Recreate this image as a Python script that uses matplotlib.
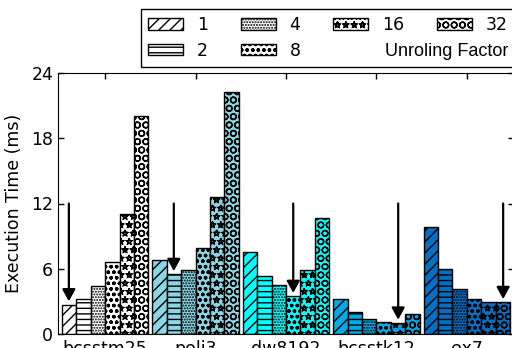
import matplotlib
matplotlib.use("Agg")
import matplotlib.pyplot as plt
import matplotlib.hatch as mhatch
from matplotlib.patches import Patch
import numpy as np

# hollow stars, as in the reference
mhatch.Stars.filled = False

matrices = ["bcsstm25", "poli3", "dw8192", "bcsstk12", "ex7"]
factors = ["1", "2", "4", "8", "16", "32"]
times = {
    "bcsstm25": [2.72, 3.27, 4.40, 6.63, 11.07, 20.0],
    "poli3":    [6.79, 5.50, 5.87, 7.89, 12.60, 22.2],
    "dw8192":   [7.52, 5.32, 4.55, 3.49, 5.87, 10.64],
    "bcsstk12": [3.21, 2.02, 1.43, 1.10, 1.04, 1.86],
    "ex7":      [9.82, 5.96, 4.13, 3.24, 2.93, 2.93],
}
best = [0, 1, 3, 4, 5]          # index of the marked (best) unrolling factor per matrix
arrow_start = 12.0
yticks = [0, 6, 12, 18, 24]

group_colors = ["#ffffff", "#8ad6e4", "#00ffff", "#00aae6", "#0070c4"]
hatches = ["///", "---", "......", "ooo", "**", "OO"]

W, H = 512, 348
fig = plt.figure(figsize=(W / 100, H / 100), dpi=100)
ax = fig.add_axes([58 / W, (H - 334.3) / H, 456 / W, 261.6 / H])

bw = 0.16
x = np.arange(len(matrices))
for gi, m in enumerate(matrices):
    vals = times[m]
    for bi, v in enumerate(vals):
        ax.bar(x[gi] + (bi - 2.5) * bw, v, width=bw, color=group_colors[gi],
               edgecolor="black", linewidth=1.0, hatch=hatches[bi])
    bx = x[gi] + (best[gi] - 2.5) * bw
    ax.annotate("", xy=(bx, vals[best[gi]] + 0.3), xytext=(bx, arrow_start),
                arrowprops=dict(arrowstyle="-|>,head_length=0.55,head_width=0.3",
                                color="black", lw=1.6, shrinkA=0, shrinkB=0,
                                mutation_scale=13))

ax.set_xlim(-0.52, 4.52)
ax.set_ylim(0, 24)
ax.set_yticks(yticks)
ax.set_xticks(x)
ax.set_xticklabels(matrices)
ax.tick_params(axis="both", direction="in", top=True, right=True, labelsize=12.5,
               length=4, width=1)
ax.tick_params(axis="x", pad=4)
ax.set_ylabel("Execution Time (ms)", fontsize=12.5, labelpad=6)

handles = []
for i, f in enumerate(factors):
    handles.append(Patch(facecolor="white", edgecolor="black", hatch=hatches[i], label=f))
blank = Patch(facecolor="none", edgecolor="none", label="")
order = [handles[0], handles[1], handles[2], handles[3], handles[4], blank, handles[5], blank]
leg = fig.legend(handles=order, labels=[h.get_label() for h in order], ncol=4,
                 loc="upper left", bbox_to_anchor=(141 / W, 1 - 9 / H),
                 fontsize=12.5, handlelength=2.0, handleheight=0.67, handletextpad=0.8,
                 columnspacing=1.9, labelspacing=0.42, borderpad=0.42, fancybox=False,
                 frameon=True, borderaxespad=0, framealpha=1)
leg.get_frame().set_edgecolor("black")
leg.get_frame().set_linewidth(1.0)
fig.text(385 / W, 1 - 52 / H, "Unroling Factor", fontsize=13, ha="left", va="center",
         family="Liberation Sans", zorder=10)

fig.savefig("out.png", dpi=100)
